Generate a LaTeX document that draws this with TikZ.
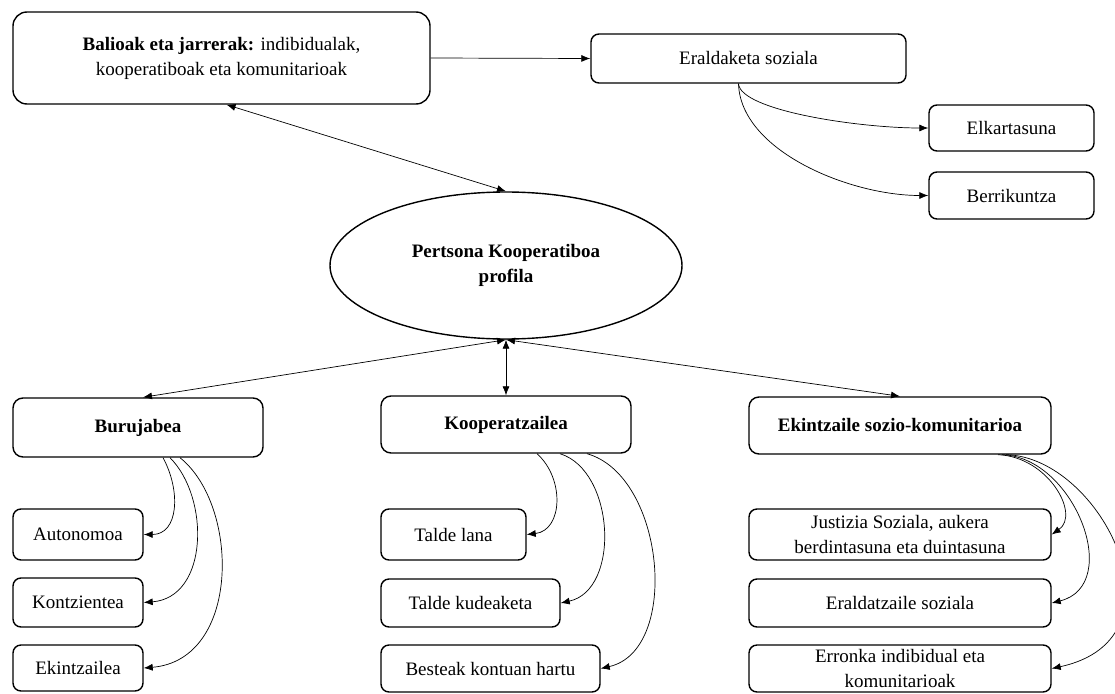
\documentclass[tikz,border=0pt]{standalone}
\usepackage{fontspec}
\setmainfont{Liberation Serif}
\usetikzlibrary{arrows.meta,shapes.geometric}

\tikzset{
  box/.style={draw, line width=1.4pt, rounded corners=8pt, align=center,
    inner sep=0pt, font=\fontsize{19}{25}\selectfont},
  bigbox/.style={box, rounded corners=14pt},
  headbox/.style={box, rounded corners=10pt, font=\fontsize{19}{25}\selectfont\bfseries},
  oval/.style={draw, ellipse, line width=1.4pt, align=center, inner sep=0pt,
    font=\fontsize{19}{25}\selectfont\bfseries},
  conn/.style={line width=0.7pt, -{Latex[length=9pt,width=7pt]}},
  biconn/.style={line width=0.7pt, {Latex[length=9pt,width=7pt]}-{Latex[length=9pt,width=7pt]}}
}

\begin{document}
\begin{tikzpicture}[x=1pt,y=-1pt]
\useasboundingbox (0,0) rectangle (1115,693);

% top row
\node[bigbox, minimum width=417pt, minimum height=92pt] (bal) at (221.5,58)
  {\textbf{Balioak eta jarrerak:} indibidualak,\\kooperatiboak eta komunitarioak};
\node[box, minimum width=315pt, minimum height=49pt] (erald) at (748.5,58.5) {Eraldaketa soziala};
\node[box, minimum width=165pt, minimum height=46pt] (elk) at (1011.5,128) {Elkartasuna};
\node[box, minimum width=165pt, minimum height=47pt] (berr) at (1011.5,195.5) {Berrikuntza};

% central profile
\node[oval, minimum width=352pt, minimum height=147pt] (prof) at (506,265.5)
  {Pertsona Kooperatiboa\\profila};

% three dimensions
\node[headbox, minimum width=250pt, minimum height=59pt] (buru) at (138,427.5) {Burujabea};
\node[headbox, minimum width=250pt, minimum height=57pt] (koop) at (506,424.5) {Kooperatzailea};
\node[headbox, minimum width=302pt, minimum height=57pt] (ekin) at (900,425.5) {Ekintzaile sozio-komunitarioa};

% Burujabea items
\node[box, minimum width=130pt, minimum height=51pt] (auto) at (78,534.5) {Autonomoa};
\node[box, minimum width=130pt, minimum height=49pt] (kontz) at (78,602.5) {Kontzientea};
\node[box, minimum width=130pt, minimum height=46pt] (ekl) at (78,668) {Ekintzailea};

% Kooperatzailea items
\node[box, minimum width=145pt, minimum height=51pt] (tlana) at (453.5,534.5) {Talde lana};
\node[box, minimum width=179pt, minimum height=48pt] (tkud) at (470.5,603) {Talde kudeaketa};
\node[box, minimum width=219pt, minimum height=47pt] (best) at (490.5,668.5) {Besteak kontuan hartu};

% Ekintzaile items
\node[box, minimum width=302pt, minimum height=51pt] (just) at (900,534.5)
  {Justizia Soziala, aukera\\berdintasuna eta duintasuna};
\node[box, minimum width=302pt, minimum height=48pt] (eraz) at (900,603) {Eraldatzaile soziala};
\node[box, minimum width=302pt, minimum height=47pt] (erro) at (900,668.5)
  {Erronka indibidual eta\\komunitarioak};

% straight links
\draw[conn] (bal.east) -- (erald.west);
\draw[biconn] ([xshift=5pt]bal.south) -- (prof.north);
\draw[biconn] (prof.south) -- ([xshift=5pt]buru.north);
\draw[biconn] (prof.south) -- (koop.north);
\draw[biconn] (prof.south) -- (ekin.north);

% curved links
\draw[conn] ([xshift=-10pt]erald.south) .. controls +(2,27) and +(-69,0) .. (elk.west);
\draw[conn] ([xshift=-10pt]erald.south) .. controls +(2,67) and +(-79,0) .. (berr.west);

\draw[conn] ([xshift=25pt]buru.south) .. controls +(18,33) and +(35,0) .. (auto.east);
\draw[conn] ([xshift=32pt]buru.south) .. controls +(40,40) and +(65,-5) .. (kontz.east);
\draw[conn] ([xshift=42pt]buru.south) .. controls +(60,48) and +(97,-8) .. (ekl.east);

\draw[conn] ([xshift=31pt]koop.south) .. controls +(28,25) and +(36,-4) .. (tlana.east);
\draw[conn] ([xshift=54pt]koop.south) .. controls +(55,17) and +(60,-13) .. (tkud.east);
\draw[conn] ([xshift=81pt]koop.south) .. controls +(78,22) and +(80,-18) .. (best.east);

\draw[conn] ([xshift=98pt]ekin.south) .. controls +(50,2) and +(29,-20) .. (just.east);
\draw[conn] ([xshift=102pt]ekin.south) .. controls +(72,2) and +(72,-18) .. (eraz.east);
\draw[conn] ([xshift=106pt]ekin.south) .. controls +(95,2) and +(140,-30) .. (erro.east);
\end{tikzpicture}
\end{document}
